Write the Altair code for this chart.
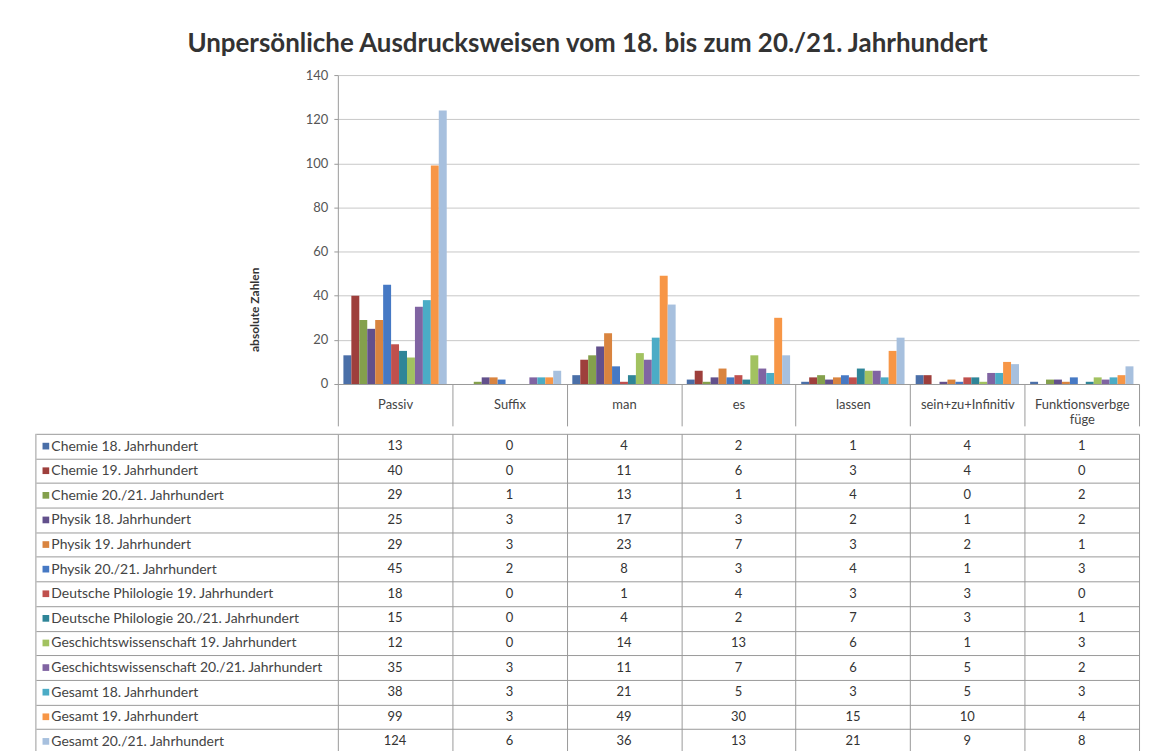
import altair as alt
import pandas as pd

categories = ["Passiv", "Suffix", "man", "es", "lassen", "sein+zu+Infinitiv", "Funktionsverbgefüge"]

series = [
    "Chemie 18. Jahrhundert",
    "Chemie 19. Jahrhundert",
    "Chemie 20./21. Jahrhundert",
    "Physik 18. Jahrhundert",
    "Physik 19. Jahrhundert",
    "Physik 20./21. Jahrhundert",
    "Deutsche Philologie 19. Jahrhundert",
    "Deutsche Philologie 20./21. Jahrhundert",
    "Geschichtswissenschaft 19. Jahrhundert",
    "Geschichtswissenschaft 20./21. Jahrhundert",
    "Gesamt 18. Jahrhundert",
    "Gesamt 19. Jahrhundert",
    "Gesamt 20./21. Jahrhundert",
]

passiv = [13, 40, 29, 25, 29, 45, 18, 15, 12, 35, 38, 99, 124]
suffix = [0, 0, 1, 3, 3, 2, 0, 0, 0, 3, 3, 3, 6]
man = [4, 11, 13, 17, 23, 8, 1, 4, 14, 11, 21, 49, 36]
es = [2, 6, 1, 3, 7, 3, 4, 2, 13, 7, 5, 30, 13]
lassen = [1, 3, 4, 2, 3, 4, 3, 7, 6, 6, 3, 15, 21]
sein_zu_infinitiv = [4, 4, 0, 1, 2, 1, 3, 3, 1, 5, 5, 10, 9]
funktionsverbgefuege = [1, 0, 2, 2, 1, 3, 0, 1, 3, 2, 3, 4, 8]

colors = [
    "#4a6fa8", "#9e3f3c", "#84a04c", "#62508c", "#d9843f", "#4679c4", "#c0504d",
    "#2f8598", "#a2c260", "#8064a2", "#4bacc6", "#f79646", "#a7c0de",
]

y_ticks = [0, 20, 40, 60, 80, 100, 120, 140]

columns = [passiv, suffix, man, es, lassen, sein_zu_infinitiv, funktionsverbgefuege]
rows = []
for cat, vals in zip(categories, columns):
    for s, v in zip(series, vals):
        rows.append({"category": cat, "series": s, "value": v})
df = pd.DataFrame(rows)

FONT = "Lato"
W = 804
GRID = "#c8c8c8"
LINE = "#9a9a9a"

color_scale = alt.Scale(domain=series, range=colors)

bars = alt.Chart(df).mark_bar().encode(
    x=alt.X(
        "category:N",
        sort=categories,
        scale=alt.Scale(paddingInner=0, paddingOuter=0),
        axis=alt.Axis(
            title=None,
            labelAngle=0,
            labelFont=FONT,
            labelFontSize=13,
            labelColor="#444444",
            labelPadding=-21,
            labelBaseline="middle",
            labelLimit=0,
            labelExpr="datum.value == 'Funktionsverbgefüge' ? ['Funktionsverbge', 'füge'] : datum.value",
            tickBand="extent",
            tickSize=42,
            tickColor=LINE,
            domainColor=LINE,
            grid=False,
        ),
    ),
    xOffset=alt.XOffset(
        "series:N", sort=series, scale=alt.Scale(paddingInner=0, paddingOuter=0.7)
    ),
    y=alt.Y(
        "value:Q",
        scale=alt.Scale(domain=[0, 140], nice=False),
        axis=alt.Axis(
            values=y_ticks,
            title="absolute Zahlen",
            titleFont=FONT,
            titleFontSize=12,
            titleFontWeight="bold",
            titleColor="#333333",
            titleX=-77,
            titleY=235,
            labelFont=FONT,
            labelFontSize=13,
            labelColor="#555555",
            labelPadding=6,
            tickSize=4,
            tickColor=LINE,
            domainColor=LINE,
            gridColor=GRID,
        ),
    ),
    color=alt.Color("series:N", scale=color_scale, legend=None),
).properties(width=W, height=310)

table_base = alt.Chart(df).encode(
    x=alt.X(
        "category:N",
        sort=categories,
        scale=alt.Scale(paddingInner=0, paddingOuter=0),
        axis=alt.Axis(
            title=None, labels=False, ticks=False, domain=False,
            grid=True, tickBand="extent", gridColor=LINE,
        ),
    ),
    y=alt.Y(
        "series:N",
        sort=series,
        scale=alt.Scale(paddingInner=0, paddingOuter=0),
        axis=alt.Axis(
            title=None,
            labelAlign="left",
            labelPadding=-15,
            labelFont=FONT,
            labelFontSize=14,
            labelColor="#444444",
            labelLimit=300,
            tickBand="extent",
            tickSize=303,
            tickColor=LINE,
            domain=False,
            grid=True,
            gridColor=LINE,
        ),
    ),
)

table_text = table_base.mark_text(font=FONT, fontSize=13, color="#333333").encode(
    text="value:Q"
)

squares = alt.Chart(df[df["category"] == "Passiv"]).mark_square(size=45, opacity=1).encode(
    x=alt.value(-293),
    y=alt.Y("series:N", sort=series),
    color=alt.Color("series:N", scale=color_scale, legend=None),
)

left_border = alt.Chart(df.head(1)).mark_rule(color=LINE).encode(
    x=alt.value(-303), y=alt.value(0), y2=alt.value(321)
)

table = alt.layer(table_text, squares, left_border).properties(width=W, height=321)

chart = alt.vconcat(bars, table, spacing=0).properties(
    title=alt.TitleParams(
        "Unpersönliche Ausdrucksweisen vom 18. bis zum 20./21. Jahrhundert",
        font=FONT,
        fontSize=26,
        fontWeight="bold",
        color="#333333",
        anchor="middle",
        offset=12,
    ),
    padding={"left": 27, "top": 22, "right": 5, "bottom": 0},
).configure_view(stroke=None)

chart.save("out.html", embed_options={"renderer": "svg", "actions": False})
